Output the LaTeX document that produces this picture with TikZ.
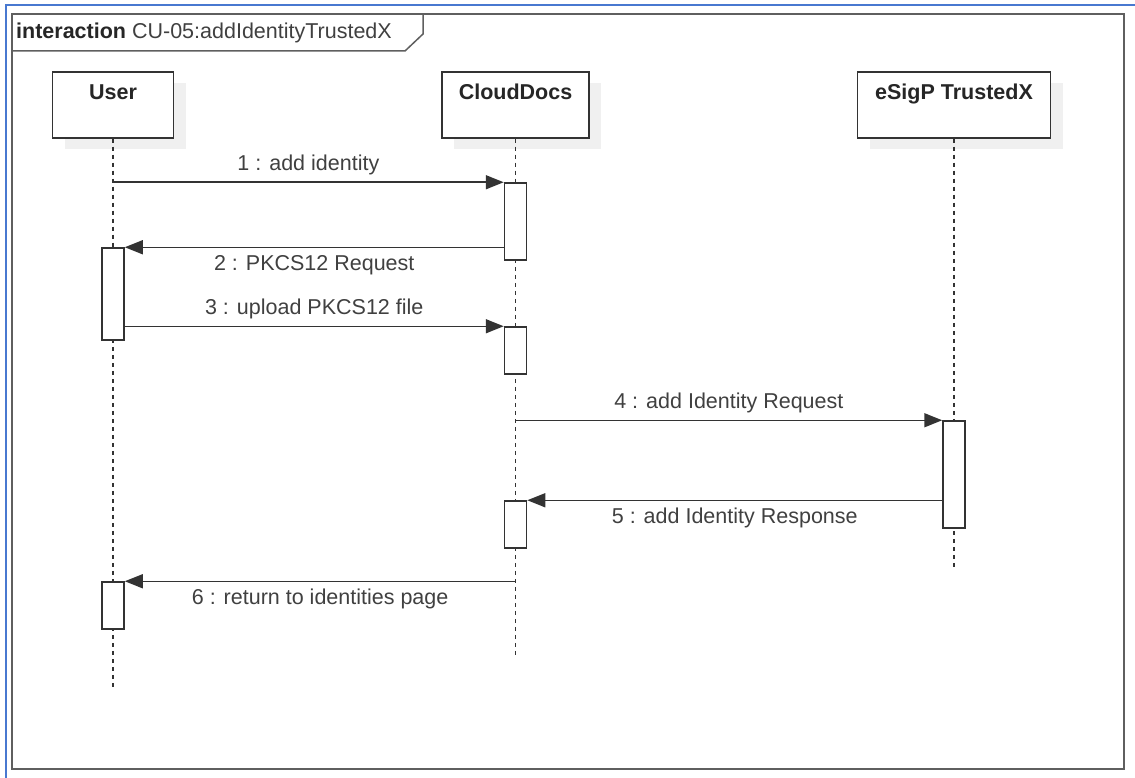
\documentclass[tikz,border=0pt]{standalone}
\usepackage{fontspec}
\setsansfont{Liberation Sans}
\usepackage{tikz}
\usetikzlibrary{arrows.meta,positioning,shadows}
\definecolor{linegray}{RGB}{51,51,51}
\definecolor{textgray}{RGB}{64,64,64}
\definecolor{framegray}{RGB}{95,95,95}
\definecolor{edgeblue}{RGB}{72,120,208}

\begin{document}
\begin{tikzpicture}[
    x=1pt, y=-1pt,
    every node/.style={font=\fontsize{21.5}{25}\selectfont\sffamily},
    head/.style={draw=linegray, line width=1.5pt, fill=white, inner sep=0pt, text height=28pt, text depth=38pt, font=\fontsize{21.5}{25}\selectfont\sffamily\bfseries, text=black!85, drop shadow={shadow xshift=12pt, shadow yshift=-11pt, fill=black!6, opacity=1}},
    act/.style={draw=linegray, line width=1.5pt, fill=white, inner sep=0pt, minimum width=22pt},
    lifeline/.style={draw=linegray, line width=1.5pt, dash pattern=on 4pt off 4pt},
    msg/.style={-{Triangle[length=18pt,width=14pt]}, draw=linegray, line width=1.5pt},
    lbl/.style={text=textgray, inner sep=0pt}
]
\useasboundingbox (0,0) rectangle (1135,778);

% Window edge and frame
\draw[edgeblue, line width=2pt] (5.5,778) -- (5.5,5) -- (1135,5);
\draw[framegray, line width=2pt] (12,14) rectangle (1124,769);
\node[anchor=base west, inner sep=0pt, text=black!85] (ftitle) at (16,39) {\textbf{interaction} \textcolor{textgray}{CU-05:addIdentityTrustedX}};
\draw[framegray, line width=1.5pt] (12,51) -- (405,51) -- (423,34) -- (423,14);

% Lifeline heads
\node[head, minimum width=121pt] (user) at (113,105) {User};
\node[head, minimum width=147pt] (cloud) at (515.5,105) {CloudDocs};
\node[head, minimum width=193pt] (esig) at (954,105) {eSigP TrustedX};

% Lifeline ends
\coordinate (userEnd) at (113,687);
\coordinate (cloudEnd) at (515.5,657);
\coordinate (esigEnd) at (954,568);

\draw[lifeline] (user) -- (userEnd);
\draw[lifeline] (cloud) -- (cloudEnd);
\draw[lifeline] (esig) -- (esigEnd);

% Activations
\node[act, minimum height=77pt] (ca1) at (515.5,221.5) {};
\node[act, minimum height=92pt] (ua1) at (113,294) {};
\node[act, minimum height=47pt] (ca2) at (515.5,350.5) {};
\node[act, minimum height=107pt] (ea1) at (954,474.5) {};
\node[act, minimum height=47pt] (ca3) at (515.5,524.5) {};
\node[act, minimum height=47pt] (ua2) at (113,605.5) {};

% Messages
\draw[msg] (user |- ca1.north) -- node[lbl, above=7pt] (m1) {1 : add identity} (ca1.north west);
\draw[msg] (ca1.west |- ua1.north) -- node[lbl, below=7pt] (m2) {2 : PKCS12 Request} (ua1.north east);
\draw[msg] (ua1.east |- ca2.north) -- node[lbl, above=7pt] (m3) {3 : upload PKCS12 file} (ca2.north west);
\draw[msg] (cloud |- ea1.north) -- node[lbl, above=7pt] (m4) {4 : add Identity Request} (ea1.north west);
\draw[msg] (ea1.west |- ca3.north) -- node[lbl, below=7pt] (m5) {5 : add Identity Response} (ca3.north east);
\draw[msg] (cloud |- ua2.north) -- node[lbl, below=7pt] (m6) {6 : return to identities page} (ua2.north east);

\end{tikzpicture}
\end{document}
